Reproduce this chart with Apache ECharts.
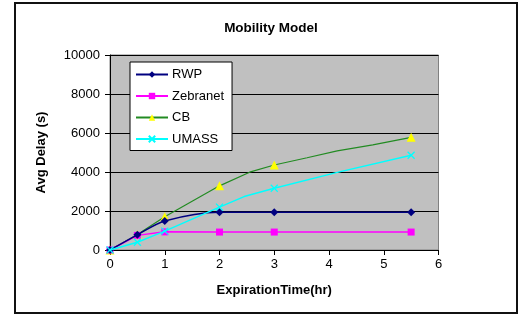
<!DOCTYPE html>
<html>
<head>
<meta charset="utf-8">
<script src="https://cdn.jsdelivr.net/npm/echarts@6/dist/echarts.min.js"></script>
<style>
  html, body { margin: 0; padding: 0; background: #fff; }
  #chart { width: 519px; height: 320px; }
</style>
</head>
<body>
<div id="chart"></div>
<script>
// Expiration time (hours) and average delay (seconds) per mobility model
const seriesNames = ['RWP', 'Zebranet', 'CB', 'UMASS'];

const rwpX = [0, 0.5, 1, 2, 3, 5.5];
const rwpY = [0, 780, 1490, 1940, 1940, 1940];

const zebraX = [0, 0.5, 1, 2, 3, 5.5];
const zebraY = [0, 750, 930, 920, 920, 920];

// CB and UMASS also carry unmarked in-between samples
const cbX = [0, 0.5, 1, 2, 2.55, 3, 3.6, 4.15, 4.8, 5.5];
const cbY = [0, 800, 1710, 3290, 3990, 4360, 4730, 5080, 5390, 5780];
const cbMarked = [1, 1, 1, 1, 0, 1, 0, 0, 0, 1];

const umassX = [0, 0.5, 1, 2, 2.45, 3, 4.15, 5.5];
const umassY = [0, 400, 970, 2200, 2740, 3170, 3980, 4860];
const umassMarked = [1, 1, 1, 1, 0, 1, 0, 1];

const xTicks = { min: 0, max: 6, interval: 1 };
const yTicks = { min: 0, max: 10000, interval: 2000 };

function points(xs, ys, marked) {
  return xs.map((x, i) => {
    const item = { value: [x, ys[i]] };
    if (marked && !marked[i]) item.symbol = 'none';
    return item;
  });
}

const FONT = 'Liberation Sans, Arial, sans-serif';
const crossPath = 'path://M0,0L10,10M10,0L0,10';

const chart = echarts.init(document.getElementById('chart'), null, { renderer: 'canvas' });

chart.setOption({
  animation: false,
  backgroundColor: '#ffffff',
  textStyle: { fontFamily: FONT },
  title: {
    text: 'Mobility Model',
    left: 266,
    textAlign: 'center',
    top: 16,
    textStyle: { fontFamily: FONT, fontSize: 13.5, fontWeight: 'bold', color: '#000' }
  },
  graphic: [{
    type: 'rect',
    shape: { x: 15, y: 3, width: 502, height: 310 },
    style: { fill: 'none', stroke: '#111', lineWidth: 2 },
    silent: true,
    z: -1
  }],
  grid: {
    left: 110, right: 80.5, top: 55, bottom: 70,
    show: true,
    backgroundColor: '#c0c0c0',
    borderColor: '#808080',
    borderWidth: 1
  },
  legend: {
    orient: 'vertical',
    left: 130,
    top: 62,
    width: 100,
    data: seriesNames,
    itemWidth: 32,
    itemHeight: 8,
    itemGap: 8.5,
    padding: [6, 8, 5, 5],
    backgroundColor: '#ffffff',
    borderColor: '#000',
    borderWidth: 1,
    borderRadius: 0,
    textStyle: { fontFamily: FONT, fontSize: 13, color: '#000', padding: [0, 0, 0, -1] }
  },
  xAxis: {
    type: 'value',
    min: xTicks.min, max: xTicks.max, interval: xTicks.interval,
    name: 'ExpirationTime(hr)',
    nameLocation: 'middle',
    nameGap: 34,
    nameTextStyle: { fontFamily: FONT, fontSize: 13, fontWeight: 'bold', color: '#000' },
    axisLine: { show: true, lineStyle: { color: '#000', width: 1 } },
    axisTick: { show: true, inside: false, length: 5, lineStyle: { color: '#000' } },
    axisLabel: { fontFamily: FONT, fontSize: 13, color: '#000', margin: 8 },
    splitLine: { show: false }
  },
  yAxis: {
    type: 'value',
    min: yTicks.min, max: yTicks.max, interval: yTicks.interval,
    name: 'Avg Delay (s)',
    nameLocation: 'middle',
    nameGap: 62,
    nameTextStyle: { fontFamily: FONT, fontSize: 13, fontWeight: 'bold', color: '#000' },
    axisLine: { show: true, lineStyle: { color: '#000', width: 1 } },
    axisTick: { show: true, inside: false, length: 5, lineStyle: { color: '#000' } },
    axisLabel: {
      fontFamily: FONT, fontSize: 13, color: '#000', margin: 10,
      formatter: (v) => String(v)
    },
    splitLine: { show: true, lineStyle: { color: '#000', width: 1 } }
  },
  series: [
    {
      name: 'RWP', type: 'line',
      data: points(rwpX, rwpY),
      smooth: 0.3,
      symbol: 'diamond', symbolSize: 8,
      lineStyle: { color: '#000080', width: 1.5 },
      itemStyle: { color: '#000080' },
      z: 4
    },
    {
      name: 'Zebranet', type: 'line',
      data: points(zebraX, zebraY),
      symbol: 'rect', symbolSize: 7,
      lineStyle: { color: '#ff00ff', width: 1.5 },
      itemStyle: { color: '#ff00ff' },
      z: 3
    },
    {
      name: 'CB', type: 'line',
      data: points(cbX, cbY, cbMarked),
      symbol: 'triangle', symbolSize: 9,
      lineStyle: { color: '#228b22', width: 1.2 },
      itemStyle: { color: '#ffff00' },
      z: 2
    },
    {
      name: 'UMASS', type: 'line',
      data: points(umassX, umassY, umassMarked),
      symbol: crossPath, symbolSize: 7,
      lineStyle: { color: '#00ffff', width: 1.5 },
      itemStyle: { color: '#00ffff', borderColor: '#00ffff', borderWidth: 1.3 },
      z: 5
    }
  ]
});
</script>
</body>
</html>
